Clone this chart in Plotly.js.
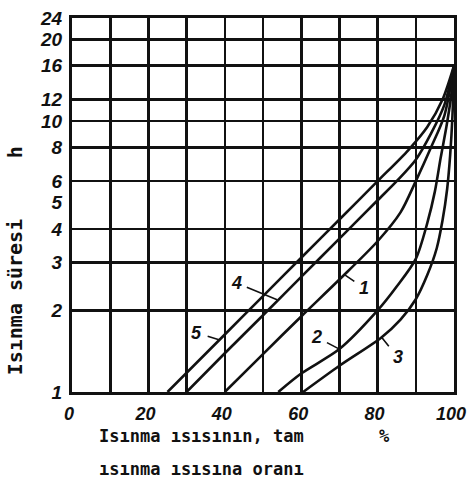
<!DOCTYPE html>
<html>
<head>
<meta charset="utf-8">
<script src="https://cdn.plot.ly/plotly-3.0.1.min.js"></script>
<style>
  html, body { margin: 0; padding: 0; background: #ffffff; }
  #chart { width: 468px; height: 490px; }
</style>
</head>
<body>
<div id="chart"></div>
<script>
// Heating time (h) versus the share of the full heating heat reached (%), curves 1-5
const curveNames = ['1', '2', '3', '4', '5'];

const x1 = [40, 50, 60, 70, 80, 86, 90, 94, 97.5, 100];
const y1 = [1, 1.38, 1.9, 2.6, 3.6, 4.6, 6.0, 8.0, 10.5, 16];

const x2 = [54, 60, 70, 80, 85, 90, 93, 95, 96.5, 98, 99.3, 100];
const y2 = [1, 1.17, 1.44, 2.0, 2.45, 3.1, 4.2, 5.5, 7.3, 9.5, 12.5, 16];

const x3 = [60.5, 70, 81, 86, 90, 93, 95.5, 97, 98.2, 99, 99.6, 100];
const y3 = [1, 1.25, 1.59, 1.85, 2.2, 2.7, 3.4, 4.3, 5.6, 7.5, 10.5, 16];

const x4 = [30, 40, 50, 60, 70, 80, 85, 90, 94, 97.5, 100];
const y4 = [1, 1.39, 1.92, 2.66, 3.68, 5.1, 6.0, 7.2, 9.0, 11.5, 16];

const x5 = [25, 40, 50, 60, 70, 80, 88, 93, 97, 100];
const y5 = [1, 1.63, 2.26, 3.13, 4.33, 6.0, 7.8, 9.5, 12, 16];

// axis ticks
const xTickVals = [0, 10, 20, 30, 40, 50, 60, 70, 80, 90, 100];
const xTickText = ['0', '', '20', '', '40', '', '60', '', '80', '', '100'];
const yTickVals = [1, 2, 3, 4, 5, 6, 8, 10, 12, 16, 20, 24];
const yTickText = ['1', '2', '3', '4', '5', '6', '8', '10', '12', '16', '20', '24'];
const yGridVals = [2, 3, 4, 6, 8, 10, 12, 16, 20];

// label anchor points on the curves and label offsets
const labelX = [71.5, 70, 81.1, 53.7, 38.7];
const labelY = [2.7, 1.44, 1.59, 2.19, 1.555];
const labelAx = [19, -23, 16, -41, -23];
const labelAy = [13, -12, 20, -17, -7];

const ink = '#111111';
const xs = [x1, x2, x3, x4, x5];
const ys = [y1, y2, y3, y4, y5];

const traces = xs.map((xv, i) => ({
  x: xv, y: ys[i], type: 'scatter', mode: 'lines', name: curveNames[i],
  line: { color: ink, width: 2.6, shape: 'spline', smoothing: 0.8 },
  hoverinfo: 'skip'
}));

const xTickFont = { family: 'Liberation Sans, Arial, sans-serif', size: 18, color: ink, weight: 'bold', style: 'italic' };
const yTickFont = { family: 'Liberation Sans, Arial, sans-serif', size: 19, color: ink, weight: 'bold', style: 'italic' };
const textFont = { family: 'DejaVu Sans Mono, monospace', size: 17, color: ink, weight: 'bold' };
const yTitleFont = { family: 'DejaVu Sans Mono, monospace', size: 20, color: ink, weight: 'bold' };

const annotations = curveNames.map((n, i) => ({
  x: labelX[i], y: Math.log10(labelY[i]), xref: 'x', yref: 'y',
  text: n, showarrow: true, arrowhead: 0, arrowwidth: 1.6, arrowcolor: ink,
  ax: labelAx[i], ay: labelAy[i], standoff: 0, startstandoff: 4,
  font: { family: 'Liberation Sans, Arial, sans-serif', size: 18, color: ink, weight: 'bold', style: 'italic' }
}));

annotations.push(
  { xref: 'paper', yref: 'paper', x: 0.066, y: -0.118, xanchor: 'left', yanchor: 'middle',
    text: 'Isınma ısısının, tam', showarrow: false, font: textFont },
  { xref: 'paper', yref: 'paper', x: 0.818, y: -0.118, xanchor: 'center', yanchor: 'middle',
    text: '%', showarrow: false, font: textFont },
  { xref: 'paper', yref: 'paper', x: 0.066, y: -0.206, xanchor: 'left', yanchor: 'middle',
    text: 'ısınma ısısına oranı', showarrow: false, font: textFont },
  { xref: 'paper', yref: 'paper', x: -0.15, y: 0.255, xanchor: 'center', yanchor: 'middle',
    text: 'Isınma süresi', textangle: -90, showarrow: false, font: yTitleFont },
  { xref: 'paper', yref: 'paper', x: -0.15, y: 0.64, xanchor: 'center', yanchor: 'middle',
    text: 'h', textangle: -90, showarrow: false, font: yTitleFont }
);

const layout = {
  width: 468, height: 490,
  margin: { l: 72, r: 14, t: 18, b: 98 },
  paper_bgcolor: '#ffffff', plot_bgcolor: '#ffffff',
  showlegend: false,
  xaxis: {
    range: [0, 100], tickmode: 'array', tickvals: xTickVals, ticktext: xTickText,
    showgrid: true, gridcolor: ink, gridwidth: 2.6, zeroline: false,
    showline: true, linecolor: ink, linewidth: 3, mirror: true,
    ticks: '', tickfont: xTickFont, ticklabelstandoff: 3, ticklabelshift: -3,
    ticklabeloverflow: 'allow'
  },
  yaxis: {
    type: 'log', range: [0, Math.log10(24)], tickmode: 'array',
    tickvals: yTickVals, ticktext: yTickText,
    showgrid: false, zeroline: false,
    showline: true, linecolor: ink, linewidth: 3, mirror: true,
    ticks: '', tickfont: yTickFont, ticklabelstandoff: 3, ticklabeloverflow: 'allow',
    minor: { tickmode: 'array', tickvals: yGridVals, showgrid: true, gridcolor: ink, gridwidth: 2.6, ticks: '' }
  },
  annotations: annotations
};

Plotly.newPlot('chart', traces, layout, { displayModeBar: false, staticPlot: true });
</script>
</body>
</html>
